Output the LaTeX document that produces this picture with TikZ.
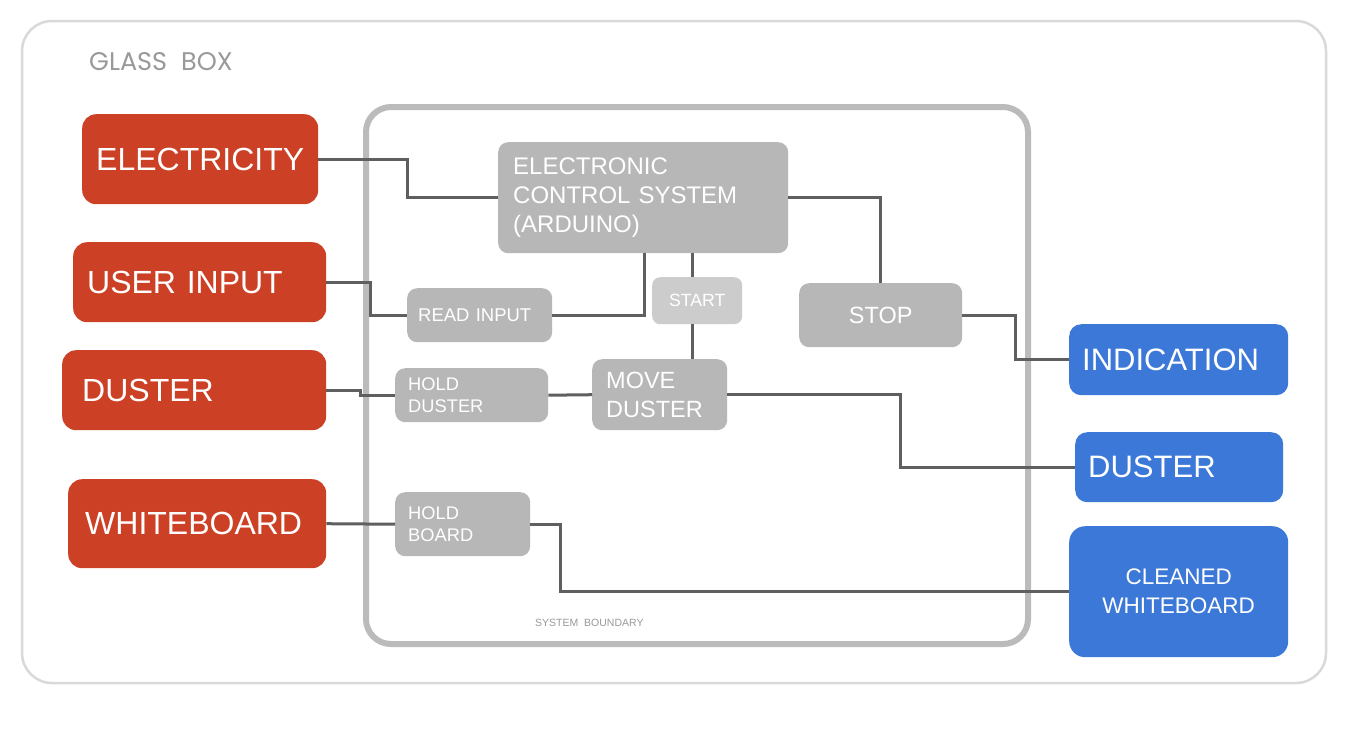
\documentclass[tikz,border=0pt]{standalone}
\usepackage{fontspec}
\setmainfont{Liberation Sans}
\newfontfamily\glassfont{Poppins}
\definecolor{redc}{HTML}{CC4125}
\definecolor{bluec}{HTML}{3C78D8}
\definecolor{grayc}{HTML}{B7B7B7}
\definecolor{startc}{HTML}{CCCCCC}
\definecolor{linec}{HTML}{5F5F5F}
\definecolor{glassc}{HTML}{D9D9D9}
\definecolor{bndc}{HTML}{BBBBBB}
\definecolor{labelc}{HTML}{999999}
\tikzset{
  lbl/.style={anchor=north west, inner ysep=0pt, align=left, text=white},
  redbox/.style={lbl, fill=redc, rounded corners=14pt, font=\fontsize{32}{38}\selectfont},
  bluebox/.style={lbl, fill=bluec, rounded corners=12pt, font=\fontsize{31}{37}\selectfont},
  graybox/.style={lbl, fill=grayc, rounded corners=10pt},
  conn/.style={draw=linec, line width=3pt},
}
\begin{document}
\begin{tikzpicture}[x=1pt,y=-1pt]
\useasboundingbox (0,0) rectangle (1348,729);
\fill[white] (0,0) rectangle (1348,729);
% glass box
\draw[glassc, line width=2.5pt, rounded corners=30pt] (22,21) rectangle (1326,683);
\node[anchor=west, text=labelc, inner sep=0pt, font=\glassfont\fontsize{25.5}{30}\selectfont] (glass) at (89,62) {GLASS\hspace{0.55em}BOX};
% system boundary
\draw[bndc, line width=6pt, rounded corners=25pt] (366,107) rectangle (1028,644);
\node[anchor=west, text=labelc, inner sep=0pt, font=\fontsize{10.5}{12}\selectfont] (sb) at (535,623) {SYSTEM\ \ BOUNDARY};

% junction x-coordinates
\coordinate (x407) at (407,0);
\coordinate (x370) at (370,0);
\coordinate (x644) at (644,0);
\coordinate (x692) at (692,0);
\coordinate (x360) at (360,0);
\coordinate (x900) at (900,0);
\coordinate (x1015) at (1015,0);
\coordinate (x560) at (560,0);

% red input boxes
\node[redbox, inner xsep=14pt, text width=208pt, minimum height=90pt] (elec) at (82,114) {ELECTRICITY};
\node[redbox, inner xsep=14pt, text width=225pt, minimum height=80pt] (user) at (73,242) {USER INPUT};
\node[redbox, inner xsep=20pt, text width=224pt, minimum height=80pt] (dusterL) at (62,350) {DUSTER};
\node[redbox, inner xsep=17pt, text width=224pt, minimum height=89pt] (wb) at (68,479) {WHITEBOARD};

% blue output boxes
\node[bluebox, inner xsep=13pt, text width=193pt, minimum height=71pt] (ind) at (1069,324) {INDICATION};
\node[bluebox, inner xsep=13pt, text width=182pt, minimum height=70pt] (dusterR) at (1075,432) {DUSTER};
\node[bluebox, inner xsep=10pt, text width=199pt, minimum height=131pt, align=center, rounded corners=16pt, font=\fontsize{22.5}{29}\selectfont] (clean) at (1069,526) {CLEANED\\WHITEBOARD};

% gray process boxes
\node[graybox, inner xsep=15pt, text width=260pt, minimum height=111pt, font=\fontsize{24}{29}\selectfont] (ecs) at (498,142) {ELECTRONIC\\CONTROL SYSTEM\\(ARDUINO)};
\node[graybox, inner xsep=11pt, text width=123pt, minimum height=54pt, font=\fontsize{18.5}{22}\selectfont] (read) at (407,288) {READ INPUT};
\node[graybox, fill=startc, inner xsep=4pt, text width=82pt, minimum height=47pt, align=center, rounded corners=8pt, font=\fontsize{17.7}{21}\selectfont] (start) at (652,277) {START};
\node[graybox, inner xsep=6pt, text width=151pt, minimum height=64pt, align=center, font=\fontsize{23.5}{28}\selectfont] (stop) at (799,283) {STOP};
\node[graybox, inner xsep=13pt, text width=127pt, minimum height=54pt, font=\fontsize{18.3}{22}\selectfont] (hd) at (395,368) {HOLD\\DUSTER};
\node[graybox, inner xsep=14pt, text width=107pt, minimum height=71pt, font=\fontsize{23.5}{29}\selectfont] (move) at (592,359) {MOVE\\DUSTER};
\node[graybox, inner xsep=13pt, text width=109pt, minimum height=64pt, font=\fontsize{18.3}{22.5}\selectfont] (hb) at (395,492) {HOLD\\BOARD};

% connectors
\draw[conn] (elec.east) -- (elec.east -| x407) |- (ecs.west);
\draw[conn] (user.east) -- (user.east -| x370) |- (read.west);
\draw[conn] (read.east) -- (read.east -| x644) -- (x644 |- ecs.south);
\draw[conn] (x692 |- ecs.south) -- (x692 |- start.north);
\draw[conn] (x692 |- start.south) -- (x692 |- move.north);
\draw[conn] (ecs.east) -| (stop.north);
\draw[conn] (stop.east) -- (stop.east -| x1015) |- (ind.west);
\draw[conn] (dusterL.east) -- (dusterL.east -| x360) |- (hd.west);
\draw[conn] (hd.east) -- (move.west);
\draw[conn] (move.east) -- (move.east -| x900) |- (dusterR.west);
\draw[conn] (wb.east) -- (hb.west);
\draw[conn] (hb.east) -- (hb.east -| x560) |- (clean.west);
\end{tikzpicture}
\end{document}
